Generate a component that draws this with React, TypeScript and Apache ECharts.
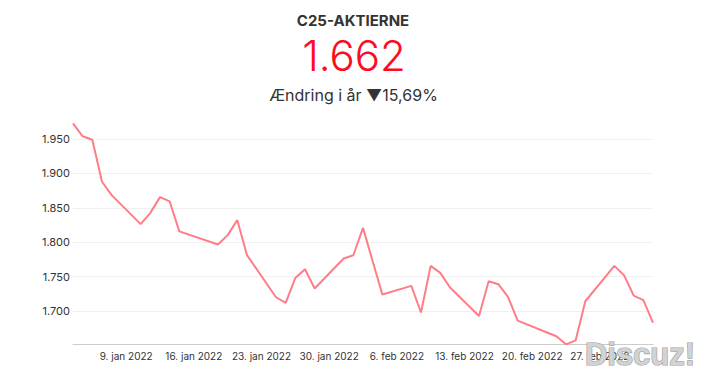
import React, { useEffect, useRef } from "react";
import * as echarts from "echarts";

// Trading days (2022) and C25 index closes
const dates: string[] = [
  "2022-01-03", "2022-01-04", "2022-01-05", "2022-01-06", "2022-01-07",
  "2022-01-10", "2022-01-11", "2022-01-12", "2022-01-13", "2022-01-14",
  "2022-01-18", "2022-01-19", "2022-01-20", "2022-01-21",
  "2022-01-24", "2022-01-25", "2022-01-26", "2022-01-27", "2022-01-28",
  "2022-01-31", "2022-02-01", "2022-02-02", "2022-02-04",
  "2022-02-07", "2022-02-08", "2022-02-09", "2022-02-10", "2022-02-11",
  "2022-02-14", "2022-02-15", "2022-02-16", "2022-02-17", "2022-02-18",
  "2022-02-22", "2022-02-23", "2022-02-24", "2022-02-25",
  "2022-02-28", "2022-03-01", "2022-03-02", "2022-03-03", "2022-03-04",
];
const values: number[] = [
  1972.8, 1953.9, 1948.9, 1887.8, 1868.4,
  1826.2, 1842.6, 1865.5, 1859.2, 1815.6,
  1796.6, 1810.2, 1832.0, 1781.1,
  1719.9, 1711.6, 1748.0, 1760.7, 1732.6,
  1776.3, 1781.0, 1820.8, 1723.9,
  1736.4, 1697.7, 1765.5, 1755.3, 1734.0,
  1692.7, 1743.2, 1738.9, 1720.4, 1686.0,
  1663.2, 1651.5, 1657.3, 1714.1,
  1765.5, 1752.0, 1722.4, 1715.6, 1683.1,
];
const xTickDates: string[] = [
  "2022-01-09", "2022-01-16", "2022-01-23", "2022-01-30",
  "2022-02-06", "2022-02-13", "2022-02-20", "2022-02-27",
];
const monthNames: string[] = ["jan", "feb", "mar", "apr", "maj", "jun", "jul", "aug", "sep", "okt", "nov", "dec"];
const yTicks: number[] = [1700, 1750, 1800, 1850, 1900, 1950];

const titleText = "C25-AKTIERNE";
const bigValue = "1.662";
const changeText = "Ændring i år ▼15,69%";

const DAY = 86400000;
const toMs = (s: string) => {
  const [y, m, d] = s.split("-").map(Number);
  return Date.UTC(y, m - 1, d);
};

export default function App() {
  const ref = useRef<HTMLDivElement>(null);
  useEffect(() => {
    if (!ref.current) return;
    const chart = echarts.init(ref.current, null, { renderer: "svg" });
    const pts = dates.map((d, i) => [toMs(d) + DAY / 2, values[i]]);
    const font = "Inter, 'Noto Sans', sans-serif";
    chart.setOption({
      animation: false,
      backgroundColor: "#ffffff",
      grid: {
        left: 73,
        right: 57,
        top: 123.3,
        bottom: 33.7,
        containLabel: false,
        outerBoundsMode: "none",
      },
      xAxis: {
        type: "value",
        min: pts[0][0],
        max: pts[pts.length - 1][0],
        axisLine: { show: true, lineStyle: { color: "#cccccc", width: 1 } },
        axisTick: { show: false },
        splitLine: { show: false },
        axisLabel: {
          customValues: xTickDates.map(toMs),
          margin: 7,
          color: "#333333",
          fontSize: 10,
          fontFamily: font,
          formatter: (v: number) => {
            const d = new Date(v);
            return `${d.getUTCDate()}. ${monthNames[d.getUTCMonth()]} ${d.getUTCFullYear()}`;
          },
        },
      },
      yAxis: {
        type: "value",
        min: "dataMin",
        max: "dataMax",
        axisLine: { show: false },
        axisTick: { show: false, customValues: yTicks },
        splitLine: { show: true, lineStyle: { color: "#f0f0f0", width: 1 } },
        axisLabel: {
          customValues: yTicks,
          margin: 3,
          color: "#333333",
          fontSize: 11,
          fontFamily: font,
          formatter: (v: number) => (v / 1000).toFixed(3),
        },
      },
      series: [
        {
          type: "line",
          data: pts,
          showSymbol: false,
          symbol: "none",
          lineStyle: { color: "#ff7d89", width: 2 },
          silent: true,
        },
      ],
      graphic: [
        {
          type: "text",
          x: 353,
          y: 20.3,
          style: {
            text: titleText,
            textAlign: "center",
            textVerticalAlign: "middle",
            fill: "#333333",
            font: `bold 15px ${font}`,
          },
        },
        {
          type: "text",
          x: 354,
          y: 55.5,
          style: {
            text: bigValue,
            textAlign: "center",
            textVerticalAlign: "middle",
            fill: "#ff0a1e",
            font: `300 42px ${font}`,
          },
        },
        {
          type: "text",
          x: 353.5,
          y: 94.5,
          style: {
            text: changeText,
            textAlign: "center",
            textVerticalAlign: "middle",
            fill: "#333333",
            font: `16px ${font}`,
          },
        },
        {
          type: "text",
          x: 640,
          y: 354,
          z: 100,
          style: {
            text: "Discuz!",
            textAlign: "center",
            textVerticalAlign: "middle",
            fill: "#d2d2d2",
            stroke: "#9c9c9c",
            lineWidth: 1.2,
            font: "bold 31px 'Liberation Sans', Arial, sans-serif",
          },
        },
      ],
    });
    return () => chart.dispose();
  }, []);
  return (
    <div
      ref={ref}
      style={{ position: "absolute", left: 0, top: 0, width: 710, height: 378 }}
    />
  );
}
